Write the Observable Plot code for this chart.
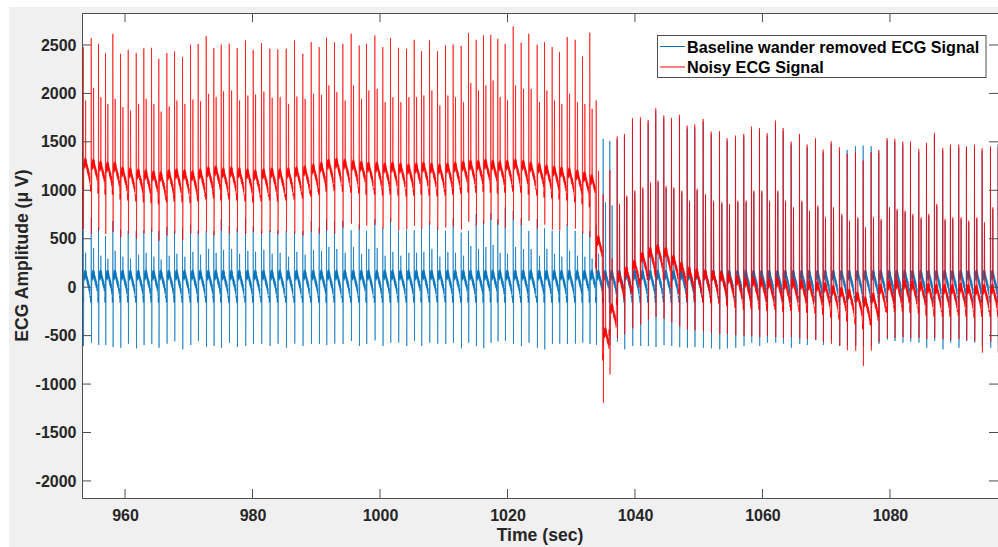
<!DOCTYPE html>
<html><head><meta charset="utf-8">
<script src="https://cdn.jsdelivr.net/npm/d3@7"></script>
<script src="https://cdn.jsdelivr.net/npm/@observablehq/plot@0.6"></script>
<style>
html,body{margin:0;padding:0;background:#fff;}
#fig{position:relative;width:998px;height:547px;overflow:hidden;}
#bg{position:absolute;left:9px;top:7px;width:989px;height:540px;background:#f0f0f0;}
#chart{position:absolute;left:0;top:0;}
</style></head><body>
<div id="fig"><div id="bg"></div><div id="chart"></div></div>
<script>
// ---- beat times (s) ----
const beatTime = [
953.37,954.62,955.76,956.86,958.01,959.22,960.42,961.68,962.87,964.08,965.22,966.48,967.69,968.94,970.20,971.40,972.66,973.85,975.01,976.27,977.52,978.82,980.03,981.33,982.64,983.89,985.21,986.51,987.81,989.13,990.38,991.53,992.78,
994.09,995.40,996.66,997.80,999.11,1000.36,1001.57,1002.82,1004.08,1005.29,1006.43,1007.69,1008.94,1010.20,1011.40,1012.66,1013.80,1015.01,1016.16,1017.30,1018.40,1019.56,1020.82,1022.07,1023.26,1024.58,1025.73,1026.93,1028.08,1029.29,1030.54,1031.69,1032.83,
1033.84,1034.93,1035.97,
1037.13,1038.27,1039.53,1040.78,1041.99,1043.18,1044.44,1045.65,1046.90,1048.11,1049.30,1050.62,1051.88,1053.18,1054.38,1055.69,1056.99,1058.20,1059.45,1060.66,1061.96,1063.17,1064.42,1065.73,1066.93,1068.24,1069.44,1070.70,1072.00,1073.21,1074.51,1075.72,1076.97,1078.17,1079.48,1080.68,1081.93,1083.14,1084.44,1085.65,1086.90,1088.20,1089.41,1090.71,1091.92,1093.18,1094.38,1095.69,1096.89];

// ---- Noisy ECG signal (µV) ----
const noisyPeak = [
2483,2576,2517,2421,2620,2414,2455,2421,2472,2476,2362,2421,2438,2379,2507,2517,2596,2472,2510,2517,2472,2552,2455,2524,2466,2459,2466,2552,2414,2534,2483,2579,2534,
2517,2621,2500,2517,2603,2483,2576,2476,2466,2559,2441,2552,2441,2500,2510,2497,2627,2559,2603,2610,2569,2517,2696,2528,2621,2507,2534,2483,2431,2586,2559,2386,2631,
1932,965,1215,
1560,1587,1749,1759,1732,1852,1777,1753,1784,1673,1684,1742,1611,1615,1543,1570,1587,1663,1649,1594,1725,1649,1508,1587,1477,1543,1425,1511,1450,1381,1398,1312,1398,1422,1543,1536,1508,1508,1432,1494,1598,1443,1477,1477,1450,1477,1439,1460,1450];
const noisyTrough = [
600,560,589,554,575,520,560,503,560,575,485,540,560,490,560,554,575,540,590,554,575,554,575,554,575,554,575,560,540,575,560,590,560,
620,660,600,640,650,610,680,590,600,640,610,650,600,620,630,600,680,640,660,700,650,620,700,640,690,610,650,600,590,640,610,560,520,
150,-1188,-895,
-520,-480,-420,-380,-330,-300,-320,-360,-400,-430,-440,-450,-470,-480,-480,-490,-500,-500,-510,-500,-510,-520,-510,-520,-530,-540,-560,-580,-600,-645,-650,-809,-650,-560,-520,-520,-510,-520,-520,-530,-520,-530,-540,-530,-540,-550,-670,-560,-670];
const noisySecond = [
1932,2063,1966,1897,1949,1863,1828,1897,1949,1897,1818,1870,1932,1897,1942,1925,2001,1966,2028,2035,1932,1983,1994,2025,1959,1966,1897,1973,1949,2001,1990,2087,2018,
1932,2087,1949,2035,2052,1914,1966,1914,1966,1966,1983,2035,1880,1983,1966,1914,2111,2035,2087,2138,1966,1932,2087,2052,2052,1914,2035,1932,1897,2001,1914,1897,1846,
1205,150,300,
864,950,1002,1036,1088,1105,1048,1036,1002,898,1019,967,898,881,864,898,898,1002,1002,898,1002,898,830,898,795,847,726,830,761,692,726,623,726,709,830,812,795,761,726,761,864,709,726,726,692,726,675,830,800];
const noisyBase = [
1130,1120,1100,1090,1090,1040,1030,1020,1010,1000,990,1010,1020,1010,1000,1020,1040,1050,1030,1040,1030,1020,1010,1020,1030,1020,1030,1040,1050,1070,1090,1120,1130,
1120,1110,1100,1090,1090,1080,1090,1080,1070,1080,1090,1080,1070,1080,1090,1100,1110,1110,1120,1110,1100,1110,1120,1110,1090,1080,1060,1050,1040,1030,1010,990,960,
330,-620,-370,
-50,10,80,160,210,240,210,130,60,10,-10,-20,-30,-40,-60,-80,-100,-90,-100,-110,-100,-120,-110,-120,-130,-140,-150,-180,-200,-220,-250,-300,-260,-170,-130,-120,-120,-130,-140,-160,-170,-170,-170,-160,-170,-180,-170,-170,-170];

// ---- Baseline wander removed ECG signal (µV) ----
const cleanPeak = [
593,723,620,534,689,603,586,586,593,613,586,627,593,620,648,593,586,586,707,637,620,717,637,593,593,593,586,586,586,689,620,707,689,
689,593,655,586,707,620,717,586,593,593,620,682,620,586,717,569,586,758,696,768,707,826,792,717,586,707,614,586,586,655,586,586,586,
650,1536,1515,
1530,1557,1719,1729,1702,1822,1747,1723,1754,1643,1654,1712,1581,1585,1513,1540,1557,1633,1619,1564,1695,1619,1478,1557,1447,1513,1395,1481,1420,1422,1460,1467,1460,1392,1513,1506,1478,1478,1402,1464,1568,1413,1447,1447,1460,1447,1409,1430,1480];
const cleanTrough = [
-602,-568,-592,-592,-613,-620,-578,-626,-592,-582,-620,-578,-554,-637,-592,-551,-613,-602,-620,-568,-613,-602,-582,-582,-602,-578,-620,-578,-602,-582,-582,-592,-578,
-582,-551,-602,-582,-544,-602,-568,-568,-602,-551,-602,-568,-578,-582,-568,-626,-568,-602,-626,-568,-554,-551,-582,-602,-568,-620,-637,-582,-578,-582,-578,-568,-582,
-590,-600,-600,
-560,-637,-602,-602,-602,-613,-592,-602,-613,-620,-613,-620,-626,-637,-626,-620,-602,-568,-602,-568,-568,-578,-620,-582,-592,-537,-592,-537,-602,-600,-600,-600,-600,-580,-537,-551,-568,-558,-568,-620,-551,-637,-568,-620,-551,-568,-600,-620,-600];
const cleanSecond = [
360,410,330,300,380,320,300,340,360,320,290,330,350,320,370,340,400,360,390,400,350,380,370,390,350,360,320,370,340,390,380,420,400,
360,420,350,400,410,330,370,330,360,360,370,400,320,370,360,330,430,400,420,440,360,350,420,400,400,330,400,350,320,380,330,320,300,
350,880,850,
844,930,982,1016,1068,1085,1028,1016,982,878,999,947,878,861,844,878,878,982,982,878,982,878,810,878,775,827,706,810,741,672,706,603,706,689,810,792,775,741,706,741,844,689,706,706,672,706,655,810,780];
const cleanBase = -25;

// ---- one-beat waveform template (s after R, µV above baseline) ----
const shapeDt   = [-0.12,-0.08,-0.05,-0.02,0,0.04,0.08,0.11,0.14,0.17,0.20,0.24,0.27,0.30,0.33,0.37,0.41,0.44,0.47,0.51,0.55,0.59,0.63,0.67,0.72,0.76,0.80,0.85,0.90,0.94,0.98,1.02,1.06];
const shapeDv   = [-60,-130,-70,-120,null,null,40,170,120,200,100,190,130,210,110,null,130,200,120,180,90,150,60,130,40,110,20,90,-10,60,-40,20,-80];
const shapeKind = ["b","b","b","b","peak","trough","b","b","b","b","b","b","b","b","b","second","b","b","b","b","b","b","b","b","b","b","b","b","b","b","b","b","b"];

// ---- axes ----
const xTicks = [960,980,1000,1020,1040,1060,1080];
const yTicks = [-2000,-1500,-1000,-500,0,500,1000,1500,2000,2500];
const xDomain = [953.25, 1096.95];
const yDomain = [-2176, 2830];
const seriesNames = ["Baseline wander removed ECG Signal", "Noisy ECG Signal"];
const seriesColors = ["#0072bd", "#ff0000"];

function trace(peak, trough, second, base) {
  const pts = [];
  for (let i = 0; i < beatTime.length; i++) {
    const t0 = beatTime[i];
    const stop = i + 1 < beatTime.length ? beatTime[i + 1] + shapeDt[0] : Infinity;
    const b = Array.isArray(base) ? base[i] : base;
    for (let k = 0; k < shapeDt.length; k++) {
      const t = t0 + shapeDt[k];
      if (t >= stop) break;
      let v;
      if (shapeKind[k] === "peak") v = peak[i];
      else if (shapeKind[k] === "trough") v = trough[i];
      else if (shapeKind[k] === "second") v = second[i];
      else v = b + shapeDv[k];
      pts.push({t, v});
    }
  }
  return pts;
}
const cleanPts = trace(cleanPeak, cleanTrough, cleanSecond, cleanBase);
const noisyPts = trace(noisyPeak, noisyTrough, noisySecond, noisyBase);

const axisColor = "#262626";
const chart = Plot.plot({
  width: 998, height: 547,
  marginLeft: 82, marginRight: 0, marginTop: 13, marginBottom: 49,
  style: {background: "none", fontFamily: "'Liberation Sans', Arial, Helvetica, sans-serif", fontSize: "16px", fontWeight: "bold", color: axisColor, overflow: "visible"},
  x: {domain: xDomain},
  y: {domain: yDomain},
  marks: [
    Plot.frame({fill: "white", stroke: "none"}),
    Plot.line(cleanPts, {x: "t", y: "v", stroke: seriesColors[0], strokeWidth: 0.65, clip: true}),
    Plot.line(noisyPts, {x: "t", y: "v", stroke: seriesColors[1], strokeWidth: 0.65, clip: true}),
    Plot.axisX({ticks: xTicks, tickSize: 0, tickPadding: 11, label: null, tickFormat: d => String(d)}),
    Plot.axisY({ticks: yTicks, tickSize: 0, tickPadding: 6, label: null, tickFormat: d => String(d)}),
    Plot.frame({stroke: "#4d4d4d", strokeWidth: 1})
  ]
});
document.getElementById("chart").appendChild(chart);

const svg = d3.select(chart);
const sx = chart.scale("x"), sy = chart.scale("y");
const L = sx.apply(xDomain[0]), R = sx.apply(xDomain[1]);
const T = sy.apply(yDomain[1]), B = sy.apply(yDomain[0]);
const tk = 9;
const g = svg.append("g").attr("stroke", "#4d4d4d").attr("stroke-width", 1);
for (const v of xTicks) {
  const x = sx.apply(v);
  g.append("line").attr("x1", x).attr("x2", x).attr("y1", B).attr("y2", B - tk);
  g.append("line").attr("x1", x).attr("x2", x).attr("y1", T).attr("y2", T + tk);
}
for (const v of yTicks) {
  const y = sy.apply(v);
  g.append("line").attr("x1", L).attr("x2", L + tk).attr("y1", y).attr("y2", y);
  g.append("line").attr("x1", R).attr("x2", R - tk).attr("y1", y).attr("y2", y);
}
// axis titles
svg.append("text").attr("x", (L + R) / 2).attr("y", 541).attr("text-anchor", "middle")
  .attr("font-size", 17.6).attr("fill", axisColor).text("Time (sec)");
svg.append("text").attr("transform", `translate(28,${(T + B) / 2}) rotate(-90)`).attr("text-anchor", "middle")
  .attr("font-size", 17.6).attr("fill", axisColor).text("ECG Amplitude (\u03bc V)");
// legend
const lg = svg.append("g").attr("text-anchor", "start");
lg.append("rect").attr("x", 657.5).attr("y", 35.5).attr("width", 328.5).attr("height", 42)
  .attr("fill", "white").attr("stroke", "#4d4d4d").attr("stroke-width", 1);
seriesNames.forEach((name, i) => {
  const y = 46.5 + i * 20.5;
  lg.append("line").attr("x1", 660).attr("x2", 685).attr("y1", y).attr("y2", y)
    .attr("stroke", seriesColors[i]).attr("stroke-width", 1);
  lg.append("text").attr("x", 687).attr("y", y + 6).attr("text-anchor", "start")
    .attr("font-size", 16.2).attr("fill", "#000").text(name);
});
</script></body></html>
